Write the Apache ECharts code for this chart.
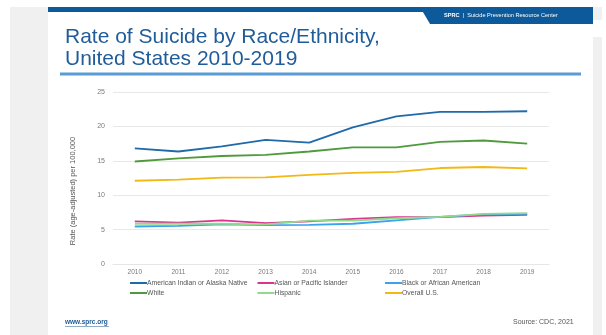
<!DOCTYPE html>
<html>
<head>
<meta charset="utf-8">
<script src="https://cdn.jsdelivr.net/npm/echarts@6/dist/echarts.min.js"></script>
<style>
  html, body { margin: 0; padding: 0; background: #ffffff; }
  #chart { width: 606px; height: 335px; }
</style>
</head>
<body>
<div id="chart"></div>
<script>
// Years on the x axis
const years = ['2010', '2011', '2012', '2013', '2014', '2015', '2016', '2017', '2018', '2019'];

// Age-adjusted suicide rates per 100,000
const aian     = [16.8, 16.35, 17.1, 18.05, 17.65, 19.85, 21.45, 22.1, 22.1, 22.2];
const asianPI  = [6.2, 6.0, 6.35, 5.95, 6.2, 6.55, 6.8, 6.8, 7.05, 7.15];
const black    = [5.45, 5.55, 5.75, 5.65, 5.7, 5.85, 6.35, 6.85, 7.2, 7.3];
const white    = [14.9, 15.35, 15.7, 15.85, 16.35, 16.95, 16.95, 17.75, 17.95, 17.5];
const hispanic = [5.85, 5.85, 5.85, 5.75, 6.3, 6.3, 6.65, 6.85, 7.3, 7.4];
const overall  = [12.1, 12.25, 12.55, 12.6, 12.95, 13.25, 13.4, 13.95, 14.1, 13.9];

// Y axis ticks
const yMin = 0, yMax = 25, yStep = 5;

const seriesDefs = [
  { name: 'American Indian or Alaska Native', data: aian,     color: '#1f6aa8' },
  { name: 'Asian or Pacific Islander',        data: asianPI,  color: '#d9358f' },
  { name: 'Black or African American',        data: black,    color: '#3aa3ef' },
  { name: 'White',                            data: white,    color: '#4f9a3c' },
  { name: 'Hispanic',                         data: hispanic, color: '#93d98c' },
  { name: 'Overall U.S.',                     data: overall,  color: '#f2b814' }
];

const FONT = '"Liberation Sans", Arial, sans-serif';
const chart = echarts.init(document.getElementById('chart'), null, { renderer: 'canvas' });

chart.setOption({
  animation: false,
  backgroundColor: '#ffffff',
  textStyle: { fontFamily: FONT },
  grid: { left: 113, right: 57, top: 92, height: 172 },
  xAxis: {
    type: 'category',
    data: years,
    boundaryGap: true,
    axisLine: { show: true, lineStyle: { color: '#e6e6e6', width: 1 } },
    axisTick: { show: false },
    axisLabel: { color: '#7a7a7a', fontSize: 6.5, margin: 5, fontFamily: FONT }
  },
  yAxis: {
    type: 'value',
    min: yMin, max: yMax, interval: yStep,
    axisLine: { show: false },
    axisTick: { show: false },
    splitLine: { lineStyle: { color: '#e8e8e8', width: 1 } },
    axisLabel: { color: '#7a7a7a', fontSize: 7, margin: 8, fontFamily: FONT }
  },
  legend: {
    left: 130, top: 279, width: 410, padding: 0,
    icon: 'rect', itemWidth: 17, itemHeight: 2, itemGap: 2,
    textStyle: { color: '#555555', fontSize: 6.8, width: 108.5, lineHeight: 8, padding: [0, 0, 0, -5], fontFamily: FONT },
    data: seriesDefs.map(s => s.name)
  },
  series: seriesDefs.map(s => ({
    name: s.name,
    type: 'line',
    data: s.data,
    symbol: 'none',
    lineStyle: { width: 1.8, color: s.color },
    itemStyle: { color: s.color }
  })),
  graphic: [
    // page margins around the slide
    { type: 'rect', shape: { x: 10, y: 7, width: 38, height: 328 }, style: { fill: '#f0f0f0' }, silent: true },
    { type: 'rect', shape: { x: 593, y: 7, width: 9, height: 13 }, style: { fill: '#f0f0f0' }, silent: true },
    { type: 'rect', shape: { x: 593, y: 37, width: 9, height: 298 }, style: { fill: '#f0f0f0' }, silent: true },
    // header bar and tab
    { type: 'rect', shape: { x: 48, y: 7, width: 545, height: 5 }, style: { fill: '#0d5a9a' }, silent: true },
    { type: 'polygon', shape: { points: [[420, 7], [593, 7], [593, 24], [430, 24]] }, style: { fill: '#0d5a9a' }, silent: true },
    {
      type: 'text', left: 444, top: 12,
      style: {
        text: '{b|SPRC}  |  Suicide Prevention Resource Center',
        fill: '#ffffff', font: '5.6px ' + FONT,
        rich: { b: { fontWeight: 'bold', fontSize: 5.6, fill: '#ffffff', fontFamily: FONT } }
      },
      silent: true
    },
    // title
    {
      type: 'text', left: 65, top: 26.5,
      style: { text: 'Rate of Suicide by Race/Ethnicity,', fill: '#1f5c99', font: '21px ' + FONT },
      silent: true
    },
    {
      type: 'text', left: 65, top: 48.5,
      style: { text: 'United States 2010-2019', fill: '#1f5c99', font: '21px ' + FONT },
      silent: true
    },
    { type: 'rect', shape: { x: 60, y: 72.5, width: 521, height: 3 }, style: { fill: '#5b9bd5' }, silent: true },
    // y axis title
    {
      type: 'text', x: 73, y: 191, rotation: Math.PI / 2,
      style: { text: 'Rate (age-adjusted) per 100,000', fill: '#555555', font: '7.5px ' + FONT, align: 'center', verticalAlign: 'middle' },
      silent: true
    },
    // footer
    {
      type: 'text', left: 65, top: 319,
      style: { text: 'www.sprc.org', fill: '#1f5c99', font: 'bold 6.5px ' + FONT },
      silent: true
    },
    { type: 'rect', shape: { x: 65, y: 326.5, width: 44, height: 0.6 }, style: { fill: '#1f5c99' }, silent: true },
    {
      type: 'text', left: 513, top: 319,
      style: { text: 'Source: CDC, 2021', fill: '#555555', font: '7px ' + FONT },
      silent: true
    }
  ]
});
</script>
</body>
</html>
